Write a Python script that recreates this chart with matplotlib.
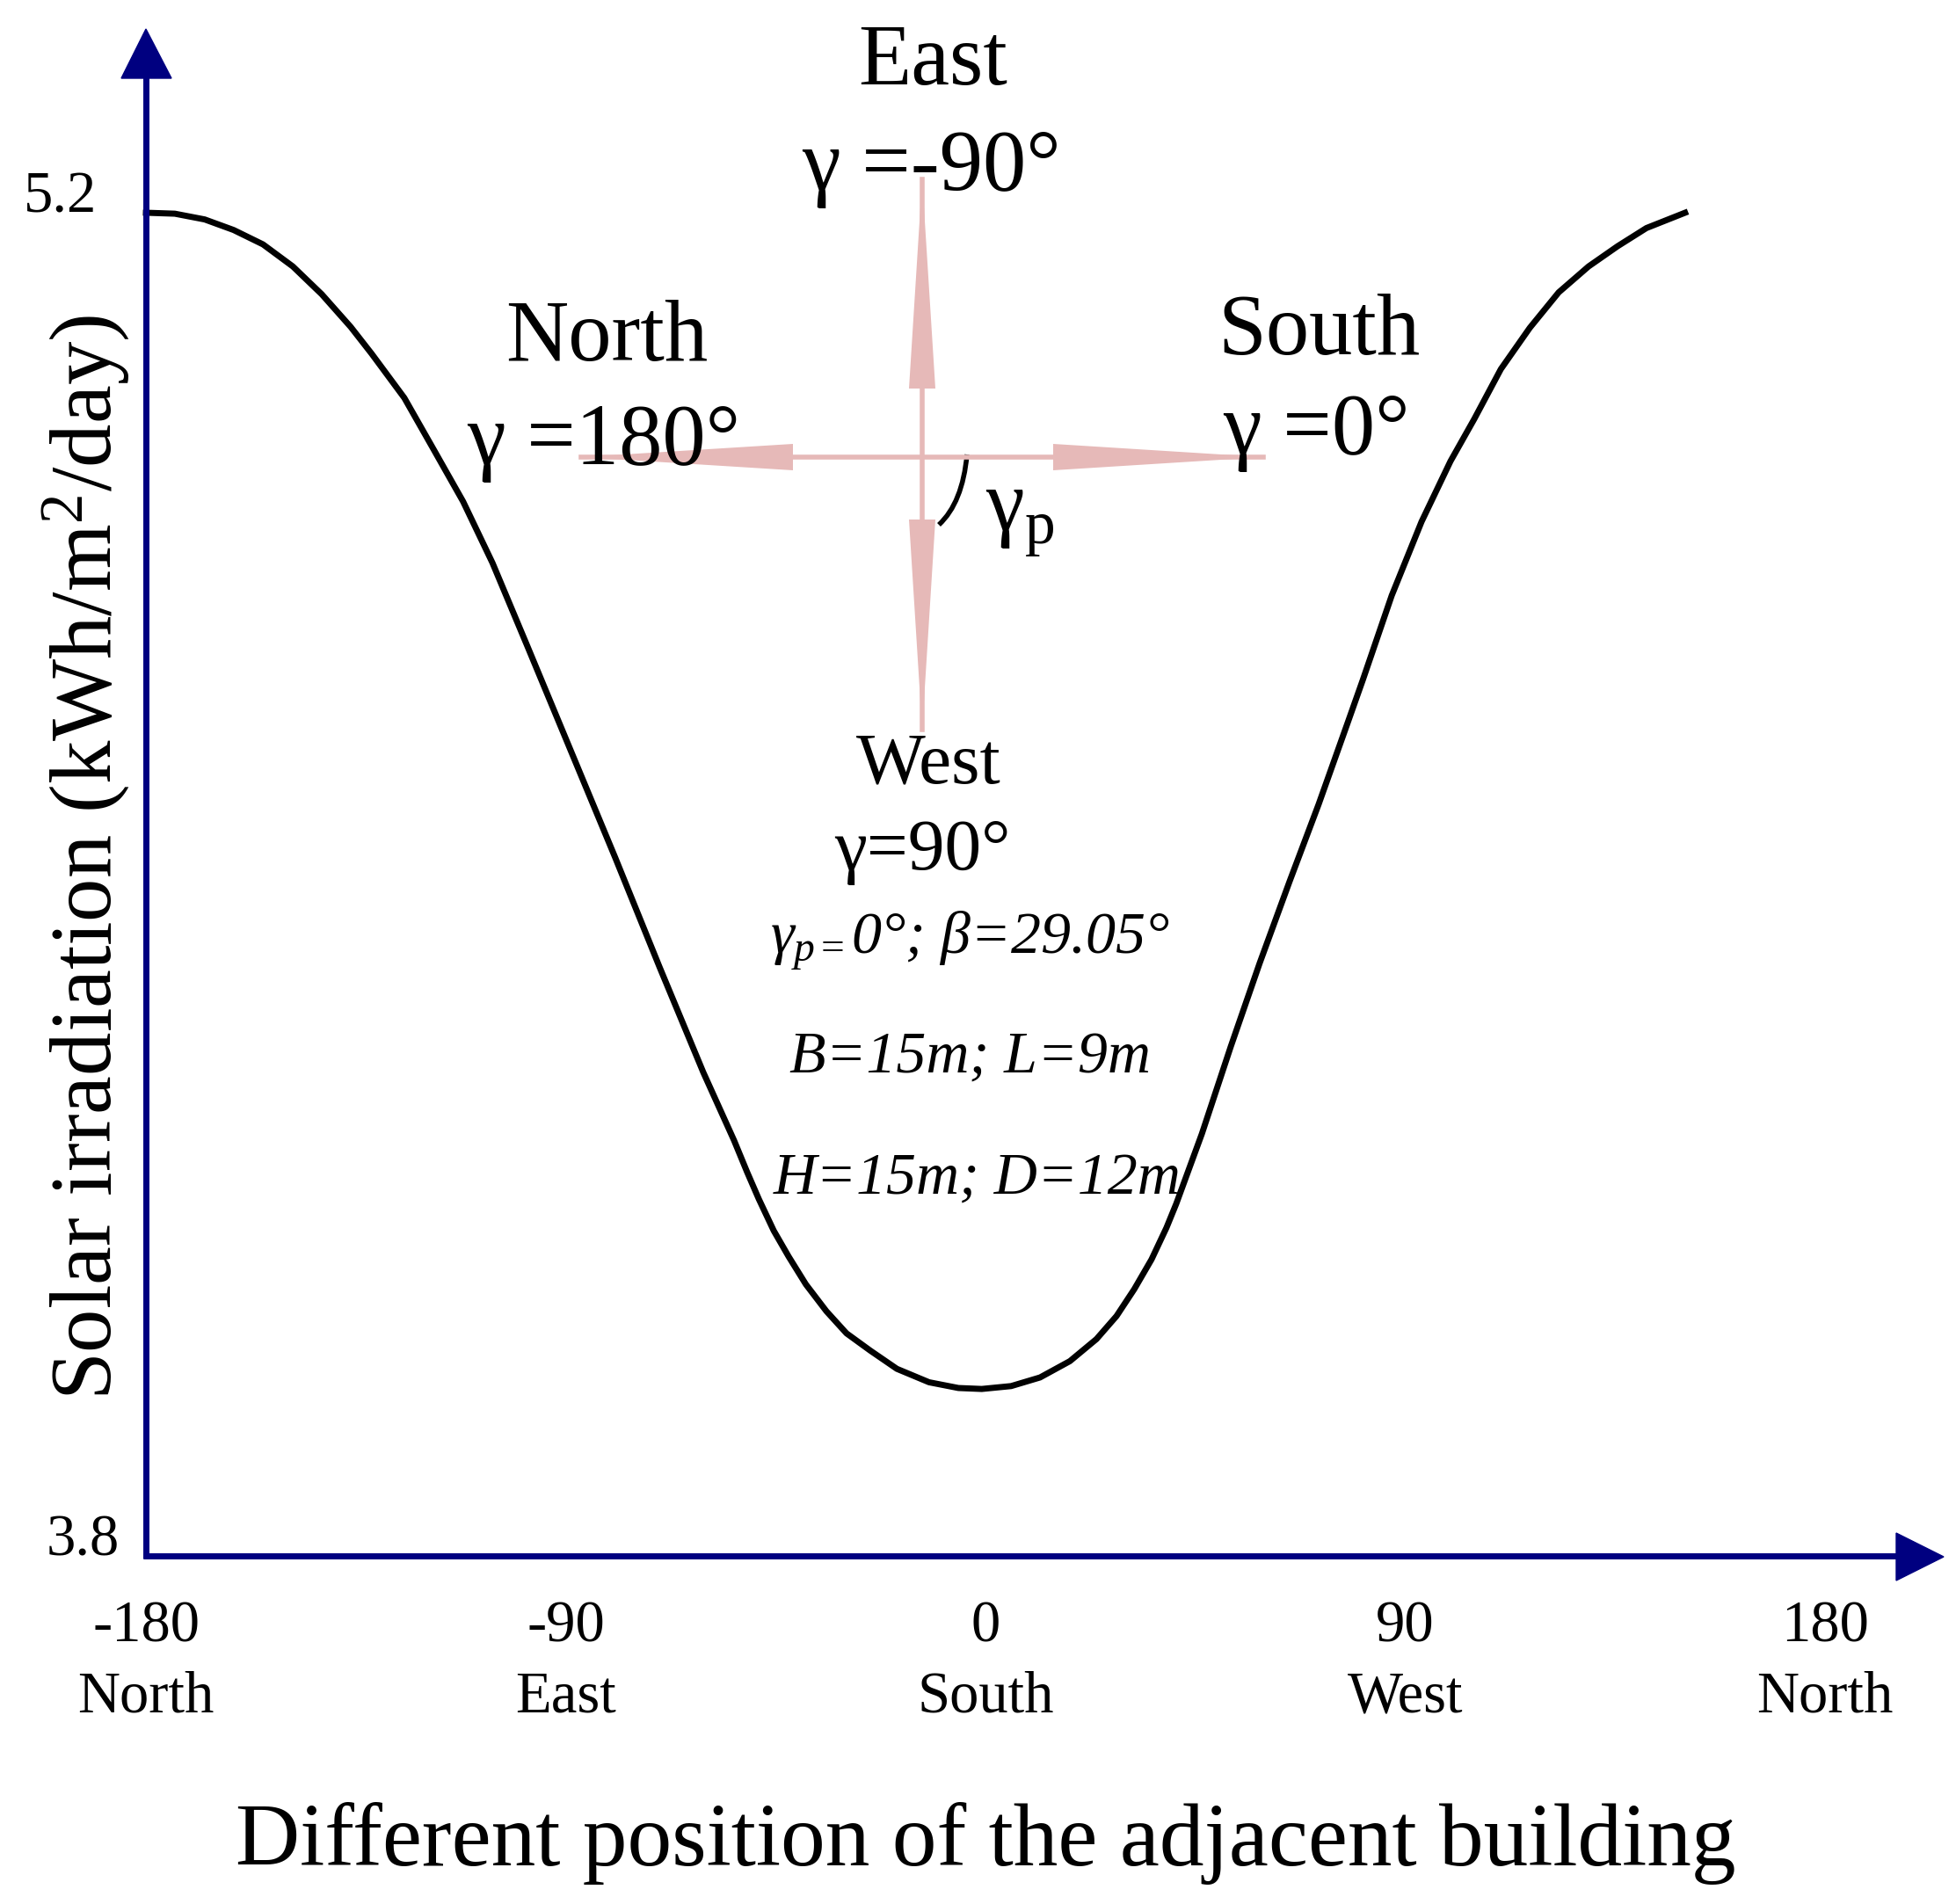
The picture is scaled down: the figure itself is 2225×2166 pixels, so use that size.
import matplotlib.pyplot as plt
from matplotlib.patches import Polygon, PathPatch
from matplotlib.path import Path

plt.rcParams['font.family'] = ['Liberation Serif', 'DejaVu Serif']
plt.rcParams['mathtext.fontset'] = 'custom'
plt.rcParams['mathtext.rm'] = 'Liberation Serif'
plt.rcParams['mathtext.it'] = 'Liberation Serif:italic'

# position of the adjacent building (deg) vs solar irradiation (kWh/m2/day)
angle = [-180.0, -173.8, -167.4, -161.2, -154.9, -148.5, -142.3, -136.1, -131.6, -124.6,
         -118.4, -112.0, -105.7, -98.2, -88.8, -79.4, -69.9, -60.5, -53.9, -51.1,
         -48.6, -45.4, -42.2, -38.5, -34.1, -29.8, -24.7, -19.0, -12.1, -5.8,
         -0.8, 5.5, 11.7, 18.1, 23.8, 28.1, 31.9, 35.6, 38.8, 40.9,
         46.4, 52.6, 58.8, 65.2, 71.4, 77.7, 80.9, 87.1, 93.5, 99.7,
         104.8, 110.5, 116.7, 122.9, 129.3, 135.5, 141.7, 150.0]
irradiation = [5.200, 5.199, 5.193, 5.182, 5.167, 5.144, 5.115, 5.081, 5.053, 5.007,
               4.954, 4.899, 4.835, 4.748, 4.638, 4.528, 4.414, 4.304, 4.233, 4.200,
               4.172, 4.139, 4.112, 4.083, 4.055, 4.032, 4.014, 3.995, 3.981, 3.975,
               3.974, 3.977, 3.986, 4.003, 4.026, 4.050, 4.078, 4.109, 4.142, 4.167,
               4.240, 4.331, 4.418, 4.503, 4.583, 4.669, 4.713, 4.801, 4.878, 4.941,
               4.985, 5.037, 5.080, 5.117, 5.144, 5.165, 5.184, 5.200]

x_ticks = [-180, -90, 0, 90, 180]
x_tick_text = ['-180\nNorth', '-90\nEast', '0\nSouth', '90\nWest', '180\nNorth']
y_ticks = [3.8, 5.2]

NAVY = '#000080'
PINK = '#E6B9B8'

W, H = 2225, 2166
X0, Y0 = 166, 1770   # pixel of (-180, 3.8)
X1, Y1 = 2076, 242   # pixel of (180, 5.2)

fig = plt.figure(figsize=(W / 100, H / 100), dpi=100)
ax = fig.add_axes([X0 / W, 1 - Y0 / H, (X1 - X0) / W, (Y0 - Y1) / H])
ax.patch.set_visible(False)
ax.plot(angle, irradiation, color='black', lw=5, clip_on=False)
ax.set_xlim(-180, 180)
ax.set_ylim(3.8, 5.2)
for s in ax.spines.values():
    s.set_visible(False)

ax.set_xticks(x_ticks, x_tick_text)
ax.set_yticks(y_ticks, [f'{v:.1f}' for v in y_ticks])
ax.tick_params(length=0, labelsize=48)
ax.tick_params(axis='x', pad=36)
ax.tick_params(axis='y', pad=40)
ax.yaxis.get_major_ticks()[0].set_pad(22)
for t in ax.get_xticklabels():
    t.set_linespacing(1.42)
for t in ax.get_yticklabels():
    t.set_va('baseline')

ax.set_xlabel('Different position of the adjacent building', fontsize=73)
ax.xaxis.set_label_coords(0.5, -0.2304)
ax.xaxis.label.set_va('baseline')
ax.set_ylabel('Solar irradiation (kWh/m$^2$/day)', fontsize=71, va='center')
ax.yaxis.set_label_coords(-0.0356, 0.5196)

# overlay in pixel units for the axis arrows and the compass sketch
deco = fig.add_axes([0, 0, 1, 1])
deco.set_xlim(0, W)
deco.set_ylim(H, 0)
deco.axis('off')
deco.patch.set_visible(False)

deco.plot([X0, X0], [Y0 + 3, 88], color=NAVY, lw=5, solid_capstyle='butt')
deco.add_patch(Polygon([[138, 89], [195, 89], [166, 33]], closed=True, color=NAVY))
deco.plot([X0 - 3, 2158], [Y0, Y0], color=NAVY, lw=5, solid_capstyle='butt')
deco.add_patch(Polygon([[2157, 1744], [2157, 1798], [2211, 1771]], closed=True, color=NAVY))

cx, cy, hw = 1049, 520, 15
deco.plot([661, 1437], [cy, cy], color=PINK, lw=4)
deco.plot([cx, cx], [204, 830], color=PINK, lw=4)
for pts in ([[902, cy - hw], [902, cy + hw], [661, cy]],
            [[1198, cy - hw], [1198, cy + hw], [1437, cy]],
            [[cx - hw, 442], [cx + hw, 442], [cx, 204]],
            [[cx - hw, 591], [cx + hw, 591], [cx, 830]]):
    deco.add_patch(Polygon(pts, closed=True, color=PINK, lw=0))

arc = Path([(1100, 517), (1095, 572), (1068, 597)], [Path.MOVETO, Path.CURVE3, Path.CURVE3])
deco.add_patch(PathPatch(arc, fill=False, lw=4, color='black'))

labels = [(1061, 96, 'East', 71), (1059, 216, 'γ =-90°', 71),
          (690, 410, 'North', 71), (687, 528, 'γ =180°', 71),
          (1500, 403, 'South', 71), (1497, 516, 'γ =0°', 71),
          (1056, 890, 'West', 60), (1049, 989, 'γ=90°', 60)]
for x, y, s, fs in labels:
    deco.text(x, y, s, fontsize=fs, ha='center', va='baseline')

deco.text(1121, 603, 'γ', fontsize=71, ha='left', va='baseline')
deco.text(1166, 618, 'p', fontsize=50, ha='left', va='baseline')

notes = [(1103, 1085, r'$\gamma_{p=}$0°; β=29.05°'),
         (1104, 1220, 'B=15m; L=9m'),
         (1112, 1358, 'H=15m; D=12m')]
for x, y, s in notes:
    deco.text(x, y, s, fontsize=49, fontstyle='italic', ha='center', va='baseline')

fig.savefig('out.png', dpi=100)
